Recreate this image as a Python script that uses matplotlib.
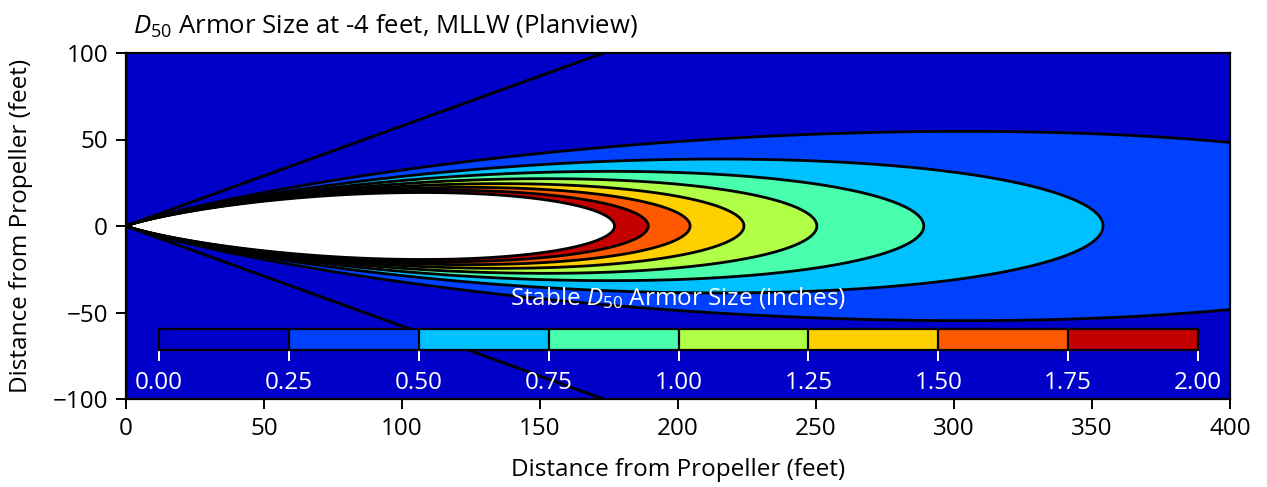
import numpy as np
import matplotlib
matplotlib.use('Agg')
import matplotlib.pyplot as plt

# ---- chart values ----
levels = [0.0, 0.25, 0.50, 0.75, 1.00, 1.25, 1.50, 1.75, 2.00]
xticks = [0, 50, 100, 150, 200, 250, 300, 350, 400]
yticks = [-100, -50, 0, 50, 100]
x_range = (0, 400)
y_range = (-100, 100)
ref_distance = 177.0      # ft along axis where D50 = 2.00 in
ref_d50 = 2.0             # inches
lateral_decay = 30.8      # jet spreading coefficient (exp(-k (r/x)^2))
cone_half_angle = 30.0    # degrees, limit of the jet

title_text = r"$D_{50}$ Armor Size at -4 feet, MLLW (Planview)"
cbar_label = r"Stable $D_{50}$ Armor Size (inches)"
xlabel = "Distance from Propeller (feet)"
ylabel = "Distance from Propeller (feet)"

plt.rcParams['font.family'] = ['Open Sans', 'DejaVu Sans']
plt.rcParams['mathtext.fontset'] = 'custom'
plt.rcParams['mathtext.rm'] = 'Open Sans'
plt.rcParams['mathtext.it'] = 'Open Sans:italic'

FS = 17.5

# field
x = np.linspace(0.01, x_range[1], 1601)
y = np.linspace(y_range[0], y_range[1], 801)
X, Y = np.meshgrid(x, y)
D = ref_d50 * (ref_distance / X) ** 2 * np.exp(-lateral_decay * (Y / X) ** 2)
D[np.abs(Y) > X * np.tan(np.radians(cone_half_angle))] = 0.0

fig = plt.figure(figsize=(12.67, 4.87), dpi=100)
ax = fig.add_axes([126 / 1267, 88 / 487, 1104 / 1267, 346 / 487])

cf = ax.contourf(X, Y, D, levels=levels, cmap='jet')
ax.contour(X, Y, D, levels=[1e-9] + levels[1:], colors='k', linewidths=2.0)

ax.set_xlim(*x_range)
ax.set_ylim(*y_range)
ax.set_xticks(xticks)
ax.set_yticks(yticks)
ax.tick_params(labelsize=FS, length=7, width=1.4, pad=6)
for s in ax.spines.values():
    s.set_linewidth(1.6)
ax.set_xlabel(xlabel, fontsize=FS, labelpad=12)
ax.set_ylabel(ylabel, fontsize=FS, labelpad=14)
ax.set_title(title_text, fontsize=18.5, loc='left', x=0.006, pad=15)

cax = ax.inset_axes([33 / 1104, 49 / 346, 1039 / 1104, 21 / 346])
cb = fig.colorbar(cf, cax=cax, orientation='horizontal', drawedges=True)
cb.outline.set_edgecolor('k')
cb.outline.set_linewidth(1.6)
cb.dividers.set_color('k')
cb.dividers.set_linewidth(1.6)
cb.set_ticks(levels)
cb.ax.set_xticklabels([f"{v:.2f}" for v in levels])
cax.tick_params(colors='white', labelcolor='white', labelsize=FS, length=8, width=1.4, pad=7)
cax.xaxis.set_label_position('top')
cb.set_label(cbar_label, color='white', fontsize=FS, labelpad=17)

fig.savefig('out.png', dpi=100)
